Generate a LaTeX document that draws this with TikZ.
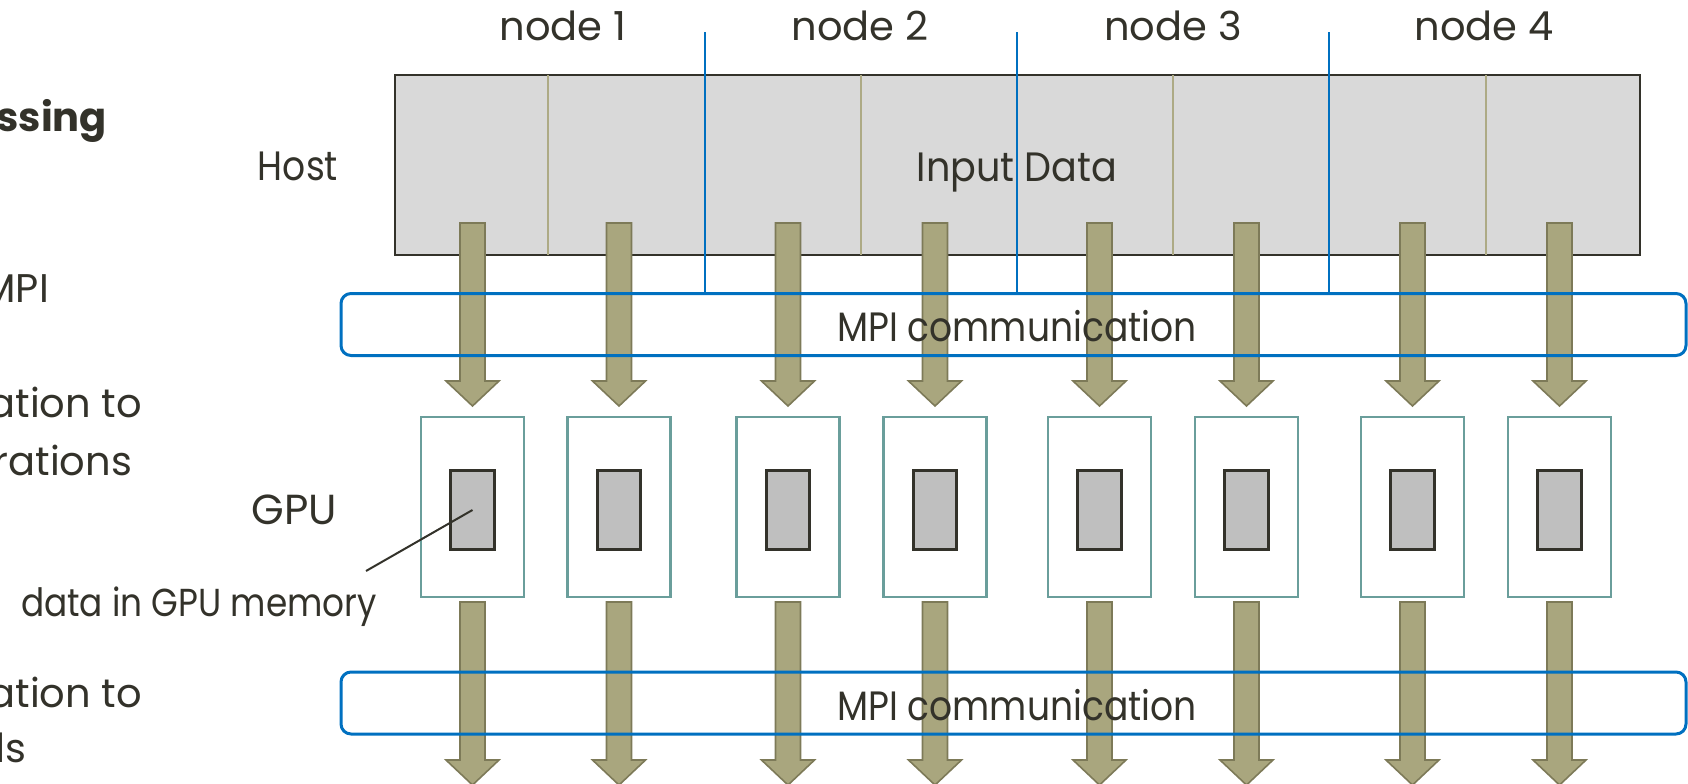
\documentclass[tikz,border=0pt]{standalone}
\usepackage{fontspec}
\setmainfont{Poppins}
\newfontfamily\cfA[FakeStretch=0.88]{Poppins}
\newfontfamily\cfB[FakeStretch=0.93]{Poppins}
\usetikzlibrary{positioning}
\definecolor{hostgray}{HTML}{D9D9D9}
\definecolor{inkdark}{HTML}{33322A}
\definecolor{mpiblue}{HTML}{0070C0}
\definecolor{gputeal}{HTML}{6A9E9B}
\definecolor{memgray}{HTML}{BFBFBF}
\definecolor{olivefill}{HTML}{A9A67E}
\definecolor{oliveline}{HTML}{7D7A58}
\definecolor{splitline}{HTML}{ADAA85}

% fat arrow pointing down: centre x, top y, tip y
\newcommand{\fatarrow}[3]{%
  \draw [fatarrow] (#1-12.5,#2) -- (#1+12.5,#2) -- (#1+12.5,#3-25) -- (#1+26.5,#3-25)
    -- (#1,#3) -- (#1-26.5,#3-25) -- (#1-12.5,#3-25) -- cycle;}
\newcommand{\fs}[1]{\fontsize{#1}{#1}\selectfont}

\begin{document}
\begin{tikzpicture}[x=0.5pt, y=-0.5pt, font=\fs{20}, text=inkdark,
  lbl/.style={inner sep=0pt, outer sep=0pt},
  hostbox/.style={draw=inkdark, fill=hostgray, line width=1.4pt, minimum width=622.5pt, minimum height=90pt, inner sep=0pt},
  mpibox/.style={draw=mpiblue, line width=1.5pt, rounded corners=5pt, minimum width=672.5pt, minimum height=31pt, inner sep=0pt},
  gpubox/.style={draw=gputeal, fill=white, line width=1.4pt, minimum width=51.5pt, minimum height=90pt, inner sep=0pt},
  membox/.style={draw=inkdark, fill=memgray, line width=1.4pt, minimum width=21.75pt, minimum height=39.75pt, inner sep=0pt},
  fatarrow/.style={fill=olivefill, draw=oliveline, line width=0.8pt}]

\useasboundingbox (0,0) rectangle (1688,783);

% Host memory with the input data
\node [hostbox] (host) at (1017.5,165) {};
\node [lbl, anchor=base, font=\cfB\fs{20.5}] (input) at (1017,181) {Input Data};
\foreach \sx in {548, 861, 1173, 1486} {
  \draw [splitline, line width=0.9pt] (\sx,75) -- (\sx,255);
}

% Node boundaries and node labels
\foreach \bx in {705, 1017, 1329} {
  \draw [mpiblue, line width=0.6pt] (\bx,32) -- (\bx,294);
}
\foreach \nx/\lab in {563/1, 860/2, 1173/3, 1484/4} {
  \node [lbl, anchor=base] (node\lab) at (\nx,40) {node \lab};
}

% Arrows from host to GPU and from GPU onwards
\foreach \cx in {472.5, 619, 788, 935, 1099.5, 1246.5, 1412.5, 1559.5} {
  \fatarrow{\cx}{223}{406}
  \fatarrow{\cx}{602}{785}
}

% MPI communication layers
\node [mpibox] (mpitop) at (1013.5,324.5) {};
\node [mpibox] (mpibot) at (1013.5,703) {};
\node [lbl, anchor=base, font=\cfA\fs{20.5}] (mpitext1) at (1017,341) {MPI communication};
\node [lbl, anchor=base, font=\cfA\fs{20.5}] (mpitext2) at (1017,720) {MPI communication};

% GPUs with their data in GPU memory
\foreach \cx [count=\i] in {472.5, 619, 788, 935, 1099.5, 1246.5, 1412.5, 1559.5} {
  \node [gpubox] (gpu\i) at (\cx,507) {};
  \node [membox] (mem\i) at (\cx,510) {};
}

% Labels on the left
\node [lbl, anchor=base east, font=\cfA\fs{20.5}] (hostlabel) at (338,180) {Host};
\node [lbl, anchor=base east, font=\fs{21}] (gpulabel) at (337,524) {GPU};
\node [lbl, anchor=base west, font=\cfA\fs{19.5}] (memlabel) at (21,616) {data in GPU memory};
\coordinate (leaderend) at (366,571);
\draw [inkdark, line width=1pt] (mem1.center) -- (leaderend);

\node [lbl, anchor=base east, font=\fs{20}\bfseries] (txt1) at (107,131) {assing};
\node [lbl, anchor=base east] (txt2) at (49,302) {MPI};
\node [lbl, anchor=base east] (txt3) at (142,417) {ation to};
\node [lbl, anchor=base east] (txt4) at (132,475) {erations};
\node [lbl, anchor=base east] (txt5) at (142,707) {ation to};
\node [lbl, anchor=base east] (txt6) at (26,762) {ds};

\end{tikzpicture}
\end{document}
